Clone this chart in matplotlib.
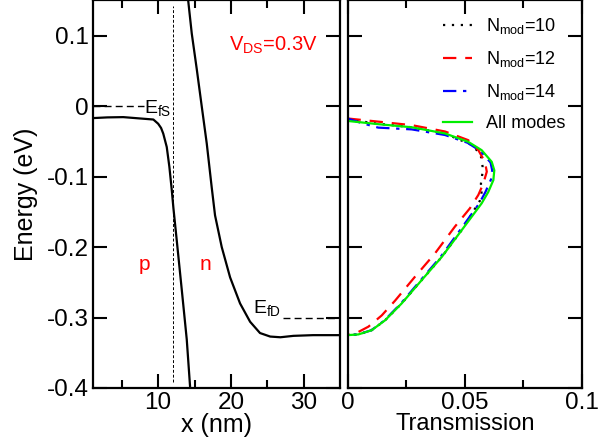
import matplotlib
matplotlib.use("Agg")
import matplotlib.pyplot as plt
import numpy as np

plt.rcParams['font.family'] = ['Liberation Sans', 'DejaVu Sans']
plt.rcParams['mathtext.default'] = 'regular'

# band profile (left panel)
x_vb = [1.0, 3.0, 5.2, 7.5, 9.34, 10.0, 10.4, 10.7, 11.18, 11.54, 11.87, 12.1, 12.55, 13.24,
        13.93, 14.38]
e_vb = [-0.017, -0.016, -0.0156, -0.0175, -0.019, -0.025, -0.031, -0.039, -0.058, -0.086,
        -0.119, -0.145, -0.19, -0.26, -0.331, -0.397]
x_cb = [14.12, 14.62, 15.3, 16.0, 16.68, 17.37, 17.82, 18.74, 19.89, 21.26, 22.64, 24.0, 25.4,
        26.8, 28.6, 31.3, 35.0]
e_cb = [0.1506, 0.103, 0.053, -0.001, -0.053, -0.116, -0.155, -0.2, -0.243, -0.28, -0.306,
        -0.322, -0.327, -0.328, -0.326, -0.325, -0.325]

# transmission (right panel)
t_all = [0.0, 0.0131, 0.0274, 0.0416, 0.0515, 0.0572, 0.0615, 0.0626, 0.0622, 0.06, 0.0572,
         0.0487, 0.0402, 0.0316, 0.0231, 0.016, 0.0103, 0.0046, 0.0]
e_all = [-0.021, -0.0256, -0.03, -0.0388, -0.0507, -0.0625, -0.079, -0.091, -0.105, -0.122,
         -0.138, -0.176, -0.214, -0.247, -0.28, -0.304, -0.318, -0.324, -0.325]
t_14 = [0.0, 0.006, 0.0131, 0.0274, 0.0416, 0.0512, 0.0568, 0.061, 0.0617, 0.0612, 0.0588,
        0.0562, 0.048, 0.0397, 0.0312, 0.0228, 0.0158, 0.0102, 0.0045, 0.0]
e_14 = [-0.0175, -0.024, -0.0305, -0.033, -0.041, -0.052, -0.064, -0.08, -0.091, -0.104,
        -0.122, -0.138, -0.176, -0.214, -0.247, -0.28, -0.304, -0.318, -0.324, -0.325]
t_12 = [0.0, 0.0131, 0.0274, 0.0416, 0.0515, 0.0558, 0.0586, 0.0594, 0.0579, 0.0558, 0.0522,
        0.0458, 0.0373, 0.0288, 0.0203, 0.0146, 0.0089, 0.0032, 0.0]
e_12 = [-0.0175, -0.022, -0.027, -0.036, -0.0483, -0.0625, -0.079, -0.093, -0.11, -0.126,
        -0.145, -0.171, -0.209, -0.242, -0.276, -0.297, -0.313, -0.323, -0.325]
t_10 = [0.0, 0.0131, 0.0274, 0.0416, 0.053, 0.0558, 0.0572, 0.0576, 0.0575, 0.0569, 0.0572,
        0.0565, 0.0487, 0.0402, 0.0316, 0.0231, 0.016, 0.0103, 0.0046, 0.0]
e_10 = [-0.019, -0.025, -0.03, -0.039, -0.055, -0.065, -0.074, -0.086, -0.096, -0.11, -0.125,
        -0.134, -0.176, -0.214, -0.247, -0.28, -0.304, -0.318, -0.324, -0.325]

fig = plt.figure(figsize=(6.02, 4.45), dpi=100)
ax1 = fig.add_axes([92.7/602, 57/445, 247.3/602, 388/445])
ax2 = fig.add_axes([347.5/602, 57/445, 234.5/602, 388/445])

ax1.plot(x_vb, e_vb, color='black', lw=1.6)
ax1.plot(x_cb, e_cb, color='black', lw=1.6)
ax1.axvline(12.05, ymin=0.015, ymax=0.985, color='black', lw=0.7, ls=(0, (3, 2)))
ax1.plot([1.0, 8.0], [0, 0], color='black', lw=1.0, ls=(0, (5, 3)))
ax1.plot([27.1, 35], [-0.3, -0.3], color='black', lw=1.0, ls=(0, (5, 3)))
ax1.text(8.1, -0.01, 'E$_{fS}$', fontsize=14)
ax1.text(23.0, -0.293, 'E$_{fD}$', fontsize=14)
ax1.text(19.8, 0.079, 'V$_{DS}$=0.3V', fontsize=14.5, color='red')
ax1.text(8.1, -0.232, 'p', fontsize=15, color='red', ha='center')
ax1.text(16.5, -0.232, 'n', fontsize=15, color='red', ha='center')

ax1.set_xlim(1, 35)
ax1.set_ylim(-0.4, 0.1506)
ax1.set_xticks([10, 20, 30])
ax1.set_xticks([5, 15, 25], minor=True)
ax1.set_yticks([-0.4, -0.3, -0.2, -0.1, 0, 0.1])
ax1.set_yticklabels(['-0.4', '-0.3', '-0.2', '-0.1', '0', '0.1'])
ax1.set_xlabel('x (nm)', fontsize=18, labelpad=-1)
ax1.set_ylabel('Energy (eV)', fontsize=18, labelpad=6)

ax2.plot(t_10, e_10, color='black', lw=1.6, ls=(0, (1, 3)), label='N$_{mod}$=10')
ax2.plot(t_12, e_12, color='red', lw=1.6, ls=(0, (6, 4)), label='N$_{mod}$=12')
ax2.plot(t_14, e_14, color='blue', lw=1.6, ls=(0, (6, 3, 1.5, 3)), label='N$_{mod}$=14')
ax2.plot(t_all, e_all, color='#00ee00', lw=1.6, label='All modes')
ax2.set_xlim(0, 0.1)
ax2.set_ylim(-0.4, 0.1506)
ax2.set_xticks([0, 0.05, 0.1])
ax2.set_xticklabels(['0', '0.05', '0.1'])
ax2.set_xticks([0.025, 0.075], minor=True)
ax2.set_yticks([-0.4, -0.3, -0.2, -0.1, 0, 0.1])
ax2.set_yticklabels([])
ax2.set_xlabel('Transmission', fontsize=17, labelpad=-1)
ax2.legend(loc='upper right', bbox_to_anchor=(1.0, 1.0), frameon=False, fontsize=13,
           handlelength=1.6, handletextpad=0.8, labelspacing=0.72, borderaxespad=0.5)

for ax in (ax1, ax2):
    ax.tick_params(which='both', direction='in', top=True, right=True, width=1.5)
    ax.tick_params(which='major', length=10, labelsize=17.5, pad=3)
    ax.tick_params(which='minor', length=6)
    for s in ax.spines.values():
        s.set_linewidth(1.6)

fig.savefig('out.png', dpi=100)
